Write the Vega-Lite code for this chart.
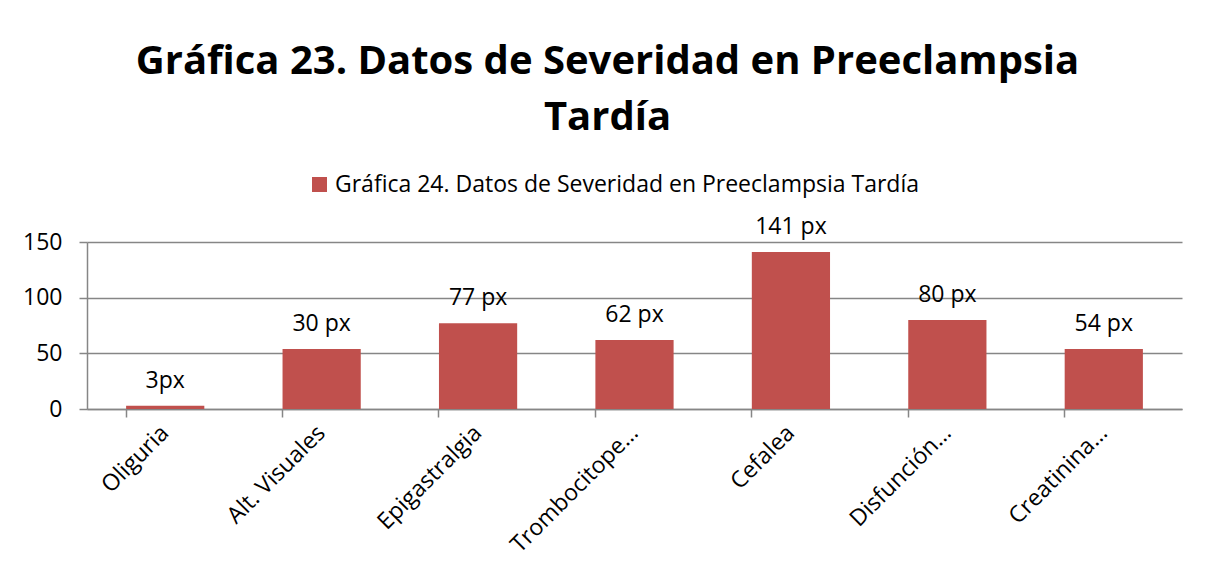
{
  "$schema": "https://vega.github.io/schema/vega-lite/v6.json",
  "autosize": {"type": "none"},
  "width": 1095,
  "height": 167,
  "padding": {"left": 87, "top": 242, "right": 28, "bottom": 164},
  "background": "white",
  "title": {
    "text": ["Gráfica 23. Datos de Severidad en Preeclampsia", "Tardía"],
    "font": "Open Sans",
    "fontSize": 40,
    "fontWeight": "bold",
    "color": "#000000",
    "anchor": "middle",
    "frame": "group",
    "dx": -27,
    "lineHeight": 56,
    "offset": 35
  },
  "data": {
    "values": [
      {"categoria": "Oliguria", "valor": 3, "etiqueta": "3px", "serie": "Gráfica 24. Datos de Severidad en Preeclampsia Tardía"},
      {"categoria": "Alt. Visuales", "valor": 54, "etiqueta": "30 px", "serie": "Gráfica 24. Datos de Severidad en Preeclampsia Tardía"},
      {"categoria": "Epigastralgia", "valor": 77, "etiqueta": "77 px", "serie": "Gráfica 24. Datos de Severidad en Preeclampsia Tardía"},
      {"categoria": "Trombocitope…", "valor": 62, "etiqueta": "62 px", "serie": "Gráfica 24. Datos de Severidad en Preeclampsia Tardía"},
      {"categoria": "Cefalea", "valor": 141, "etiqueta": "141 px", "serie": "Gráfica 24. Datos de Severidad en Preeclampsia Tardía"},
      {"categoria": "Disfunción…", "valor": 80, "etiqueta": "80 px", "serie": "Gráfica 24. Datos de Severidad en Preeclampsia Tardía"},
      {"categoria": "Creatinina…", "valor": 54, "etiqueta": "54 px", "serie": "Gráfica 24. Datos de Severidad en Preeclampsia Tardía"}
    ]
  },
  "encoding": {
    "x": {
      "field": "categoria",
      "type": "nominal",
      "sort": null,
      "scale": {"paddingInner": 0.5, "paddingOuter": 0.25},
      "axis": {
        "title": null,
        "labelAngle": -45,
        "labelAlign": "right",
        "labelBaseline": "middle",
        "labelFont": "Open Sans",
        "labelFontSize": 23,
        "labelColor": "#000000",
        "labelPadding": 12,
        "labelLimit": 300,
        "bandPosition": 0,
        "tickColor": "#868686",
        "tickWidth": 1.5,
        "tickSize": 8,
        "domainColor": "#868686",
        "domainWidth": 1.5,
        "grid": false
      }
    },
    "y": {
      "field": "valor",
      "type": "quantitative",
      "scale": {"domain": [0, 150]},
      "axis": {
        "title": null,
        "values": [0, 50, 100, 150],
        "labelFont": "Open Sans",
        "labelFontSize": 23,
        "labelColor": "#000000",
        "labelPadding": 17,
        "tickColor": "#868686",
        "tickWidth": 1.5,
        "tickSize": 8,
        "domainColor": "#868686",
        "domainWidth": 1.5,
        "grid": true,
        "gridColor": "#868686",
        "gridWidth": 1.5
      }
    }
  },
  "layer": [
    {
      "mark": {"type": "bar"},
      "encoding": {
        "color": {
          "field": "serie",
          "type": "nominal",
          "scale": {"range": ["#C0504D"]},
          "legend": {
            "title": null,
            "orient": "none",
            "legendX": 221,
            "legendY": -69,
            "symbolType": "square",
            "symbolSize": 225,
            "symbolStrokeWidth": 0,
            "labelFont": "Open Sans",
            "labelFontSize": 23,
            "labelColor": "#000000",
            "labelLimit": 800
          }
        }
      }
    },
    {
      "mark": {"type": "text", "font": "Open Sans", "fontSize": 23, "color": "#000000", "baseline": "alphabetic", "dy": -18},
      "encoding": {
        "text": {"field": "etiqueta", "type": "nominal"}
      }
    }
  ],
  "config": {
    "view": {"stroke": null}
  }
}
